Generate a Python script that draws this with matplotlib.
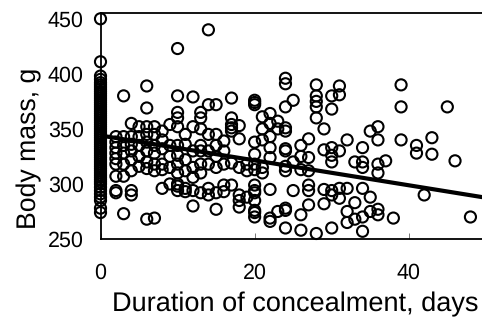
import numpy as np
import matplotlib
matplotlib.use("Agg")
import matplotlib.pyplot as plt

plt.rcParams['font.family'] = ['Liberation Sans', 'DejaVu Sans']
plt.rcParams['text.hinting'] = 'no_hinting'

# Mass readings grouped by day of concealment
mass_day0 = [450, 411, 398, 395, 392, 390, 388, 386, 384, 382, 380, 378, 376, 374, 372, 370, 368, 366, 364, 362,
             360, 358, 356, 354, 352, 350, 348, 346, 344, 342, 340, 338, 336, 334, 332, 330, 328, 326, 324, 322,
             320, 318, 316, 314, 312, 310, 308, 306, 304, 302, 300, 297, 294, 291, 288, 285, 278, 274]
mass_by_day = {
    2: [343, 338, 333, 328, 323, 318, 307, 294, 292],
    3: [380, 343, 335, 328, 318, 307, 273],
    4: [355, 343, 336, 330, 322, 312, 294, 290],
    5: [352, 343, 335, 325, 316],
    6: [389, 369, 352, 345, 338, 330, 320, 314, 268],
    7: [352, 345, 335, 328, 318, 312, 269],
    8: [348, 340, 332, 318, 313, 296],
    9: [354, 335, 325, 315, 300],
    10: [423, 380, 365, 360, 352, 335, 326, 318, 310, 300, 298, 294],
    11: [345, 336, 322, 312, 296, 293],
    12: [379, 352, 330, 315, 306, 294, 280],
    13: [365, 360, 350, 335, 330, 318, 310, 292],
    14: [440, 372, 345, 330, 318, 296, 290],
    15: [372, 345, 335, 325, 315, 292, 277],
    16: [339, 330, 318, 299, 293],
    17: [378, 360, 354, 351, 348, 319, 299],
    18: [353, 341, 315, 290, 285, 279],
    19: [318, 312, 288],
    20: [376, 374, 372, 338, 327, 318, 313, 299, 294, 292, 285, 276, 274, 270],
    21: [361, 350, 340, 315, 310],
    22: [364, 355, 343, 333, 324, 295, 269, 266],
    23: [357, 350, 275],
    24: [396, 391, 370, 351, 348, 332, 330, 316, 312, 278, 276, 260],
    25: [376, 320, 294],
    26: [335, 325, 313, 272, 258],
    27: [341, 324, 312, 299, 294, 281],
    28: [390, 380, 375, 370, 360, 255],
    29: [350, 331, 295, 282],
    30: [380, 368, 333, 326, 320, 294, 290, 260],
    31: [389, 381, 330, 296, 287],
    32: [340, 296, 275, 265],
    33: [320, 283, 268],
    34: [333, 320, 315, 296, 270, 257],
    35: [348, 288, 275],
    36: [352, 340, 318, 310, 277, 272],
    37: [321],
    38: [269],
    39: [390, 370, 340],
    41: [335, 328],
    42: [290],
    43: [342, 327],
    45: [370],
    46: [321],
    48: [270],
}
trend_days = [0, 50]
trend_mass = [344, 287.5]
x_ticks = [0, 20, 40]
y_ticks = [250, 300, 350, 400, 450]

days = [0] * len(mass_day0)
masses = list(mass_day0)
for d, vals in mass_by_day.items():
    days += [d] * len(vals)
    masses += vals

fig = plt.figure(figsize=(4.82, 3.2), dpi=100)
ax = fig.add_axes([100.5 / 482, 1 - 239 / 320, (482 - 100.5) / 482, (239 - 13.3) / 320])

ax.scatter(days, masses, s=64, facecolors='none', edgecolors='black', linewidths=1.5, clip_on=False, zorder=3)
ax.plot(trend_days, trend_mass, color='black', lw=3, zorder=4)

ax.set_xlim(0, 49.5)
ax.set_ylim(250, 455)
ax.set_xticks(x_ticks)
ax.set_yticks(y_ticks)
ax.spines['right'].set_visible(False)
for s in ['top', 'bottom', 'left']:
    ax.spines[s].set_linewidth(1.3)
ax.tick_params(axis='x', direction='in', length=4, width=0.7, color='#777777', labelsize=15.5, pad=17)
ax.tick_params(axis='y', length=0, labelsize=15.5, pad=12)
ax.set_xlabel("Duration of concealment, days", fontsize=19.5, labelpad=6.5, x=0.51)
ax.set_ylabel("Body mass, g", fontsize=19.2, labelpad=4, y=0.4)

fig.savefig("out.png", dpi=100)
